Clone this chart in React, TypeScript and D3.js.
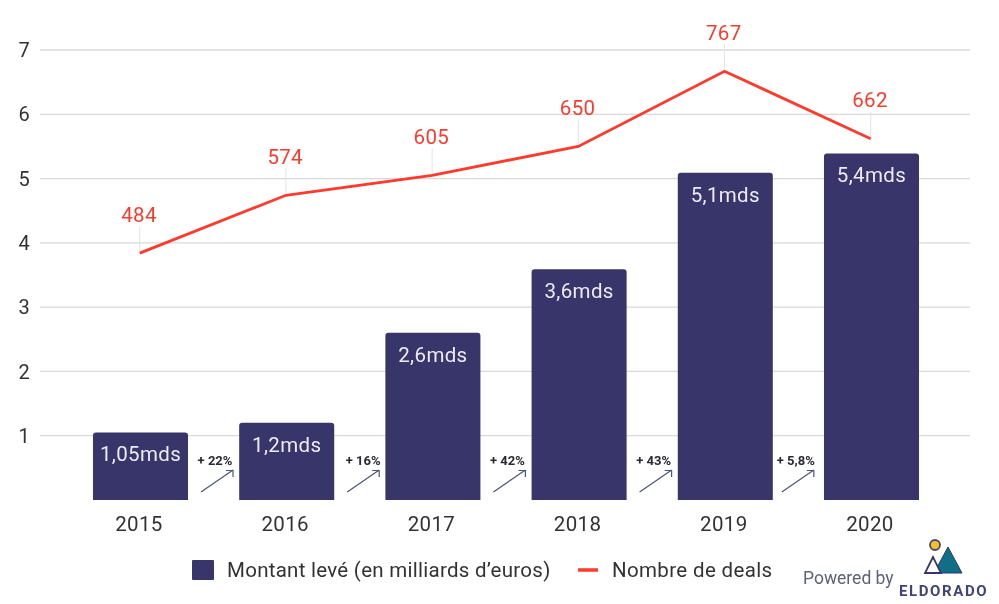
import React from "react";
import * as d3 from "d3";

const years = ["2015", "2016", "2017", "2018", "2019", "2020"];
const amounts = [1.05, 1.2, 2.6, 3.59, 5.09, 5.39];
const amountLabels = ["1,05mds", "1,2mds", "2,6mds", "3,6mds", "5,1mds", "5,4mds"];
const deals = [484, 574, 605, 650, 767, 662];
const growthLabels = ["+ 22%", "+ 16%", "+ 42%", "+ 43%", "+ 5,8%"];
const yTicks = [1, 2, 3, 4, 5, 6, 7];

const labelNudge = [0, 2, 0, 0, -4];
const arrowNudge = [-1, -1, -1, -1, -5];

const W = 999, H = 604;
const NAVY = "#37356a", RED = "#fb3b2d", INK = "#333333";
const FONT = "Roboto, sans-serif";

const x = d3.scaleBand<string>().domain(years).range([67.4, 944.6]).paddingInner(0.35).paddingOuter(0.175);
const y = d3.scaleLinear().domain([0, 7]).range([500, 50]);
const yDeals = d3.scaleLinear().domain([100, 800]).range([500, 50]);
const cx = (year: string) => (x(year) as number) + x.bandwidth() / 2;
const line = d3.line<number>().x((_, i) => cx(years[i]) - 0.8).y((d) => yDeals(d));

export default function App() {
  return (
    <svg width={W} height={H} viewBox={`0 0 ${W} ${H}`}
      style={{ position: "absolute", left: 0, top: 0, background: "#fff", fontFamily: FONT }}>
      <defs>
        <filter id="soft" x="-5%" y="-5%" width="110%" height="110%">
          <feGaussianBlur stdDeviation="0.35" />
        </filter>
      </defs>
      <g filter="url(#soft)">
        {yTicks.map((t) => (
          <g key={t}>
            <line x1={40} x2={970} y1={y(t)} y2={y(t)} stroke="#d9d9d9" strokeWidth={1.3} />
            <text x={24} y={y(t)} dy="0.36em" textAnchor="middle" fontSize={20} fill={INK}>{t}</text>
          </g>
        ))}
        {years.map((yr, i) => (
          <g key={yr}>
            <path
              d={`M${x(yr)},${y(0)}V${y(amounts[i]) + 3}q0,-3 3,-3H${(x(yr) as number) + x.bandwidth() - 3}q3,0 3,3V${y(0)}Z`}
              fill={NAVY} />
            <text x={cx(yr)} y={y(amounts[i]) + 21.5} dy="0.36em" textAnchor="middle" fontSize={20.5} letterSpacing={0.35} fill="#ecebf3">
              {amountLabels[i]}
            </text>
            <text x={cx(yr) - 1.5} y={524} dy="0.36em" textAnchor="middle" fontSize={20.5} letterSpacing={0.35} fill={INK}>{yr}</text>
            <line x1={cx(yr) - 0.8} x2={cx(yr) - 0.8} y1={yDeals(deals[i]) - 2} y2={yDeals(deals[i]) - 27} stroke="#e3e3e3" strokeWidth={1} />
            <text x={cx(yr) - 1.5} y={yDeals(deals[i]) - 39} dy="0.36em" textAnchor="middle" fontSize={20.5} letterSpacing={0.35} fill={RED}>{deals[i]}</text>
          </g>
        ))}
        <path d={line(deals) as string} fill="none" stroke={RED} strokeWidth={2.8} />
        {growthLabels.map((g, i) => {
          const x0 = (x(years[i]) as number) + x.bandwidth();
          const ax = x0 + 14 + arrowNudge[i], bx = x0 + 46 + arrowNudge[i];
          return (
            <g key={g}>
              <text x={x0 + 27 + labelNudge[i]} y={460.5} dy="0.36em" textAnchor="middle" fontSize={13} fontWeight={700} fill="#2a2a33">{g}</text>
              <path d={`M${ax},492L${bx},470M${bx - 7},470.5H${bx}V477`} fill="none" stroke="#4a5478" strokeWidth={1.2} />
            </g>
          );
        })}
        <rect x={192} y={560} width={22} height={20} rx={1} fill={NAVY} />
        <text x={227} y={570} dy="0.36em" fontSize={20.5} letterSpacing={0.27} fill={INK}>Montant levé (en milliards d’euros)</text>
        <line x1={578} x2={598} y1={570} y2={570} stroke={RED} strokeWidth={3.5} />
        <text x={612} y={570} dy="0.36em" fontSize={20.5} letterSpacing={0.35} fill={INK}>Nombre de deals</text>
        <text x={803} y={578} dy="0.36em" fontSize={17.5} fill="#5a6478">Powered by</text>
        <circle cx={935} cy={545} r={5} fill="#f2c320" stroke="#4a4a78" strokeWidth={1.8} />
        <path d="M948,547L962,573H934Z" fill="#0f6f86" stroke="#37356a" strokeWidth={1} />
        <path d="M933,557L925,573H941Z" fill="#fff" stroke="#37356a" strokeWidth={1.8} />
        <text x={899} y={591} dy="0.36em" fontSize={15} fontWeight={700} letterSpacing={1.6} fill="#3f4477">ELDORADO</text>
      </g>
    </svg>
  );
}
